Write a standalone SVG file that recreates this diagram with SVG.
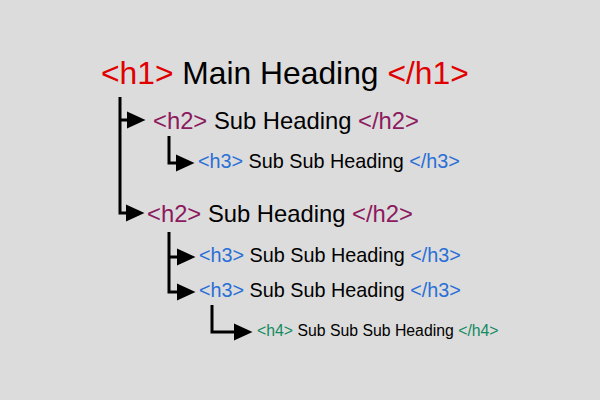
<svg xmlns="http://www.w3.org/2000/svg" width="600" height="400" viewBox="0 0 600 400">
  <style>
    text { font-family: "Liberation Sans", Arial, Helvetica, sans-serif; fill: #000; }
    .h1 { font-size: 31.8px; }
    .h2 { font-size: 23.8px; }
    .h3 { font-size: 19.8px; }
    .h4 { font-size: 15.8px; }
    .t1 { fill: #e00000; }
    .t2 { fill: #8c1a5e; }
    .t3 { fill: #2a6fd6; }
    .t4 { fill: #138a5f; }
    .conn { fill: none; stroke: #000; stroke-width: 3; stroke-linejoin: miter; }
  </style>
  <defs>
    <marker id="arrow" markerUnits="userSpaceOnUse" markerWidth="19" markerHeight="17" refX="0" refY="8.5" orient="auto" overflow="visible">
      <path d="M0,0 L18.5,8.5 L0,17 z" fill="#000"/>
    </marker>
  </defs>
  <rect width="600" height="400" fill="#dcdcdc"/>

  <g id="connectors">
    <path class="conn" d="M120,97 V213 H126" marker-end="url(#arrow)"/>
    <path class="conn" d="M120,120 H127" marker-end="url(#arrow)"/>
    <path class="conn" d="M169,136 V163 H176" marker-end="url(#arrow)"/>
    <path class="conn" d="M169,232 V292 H177" marker-end="url(#arrow)"/>
    <path class="conn" d="M169,257 H177" marker-end="url(#arrow)"/>
    <path class="conn" d="M212,305 V332 H234" marker-end="url(#arrow)"/>
  </g>

  <g id="h1-main">
    <text class="h1" x="101" y="84"><tspan class="t1">&lt;h1&gt;</tspan> Main Heading <tspan class="t1">&lt;/h1&gt;</tspan></text>
  </g>
  <g id="h2-a">
    <text class="h2" x="153" y="129"><tspan class="t2">&lt;h2&gt;</tspan> Sub Heading <tspan class="t2">&lt;/h2&gt;</tspan></text>
  </g>
  <g id="h3-a">
    <text class="h3" x="198" y="168"><tspan class="t3">&lt;h3&gt;</tspan> Sub Sub Heading <tspan class="t3">&lt;/h3&gt;</tspan></text>
  </g>
  <g id="h2-b">
    <text class="h2" x="147" y="222"><tspan class="t2">&lt;h2&gt;</tspan> Sub Heading <tspan class="t2">&lt;/h2&gt;</tspan></text>
  </g>
  <g id="h3-b">
    <text class="h3" x="199" y="262"><tspan class="t3">&lt;h3&gt;</tspan> Sub Sub Heading <tspan class="t3">&lt;/h3&gt;</tspan></text>
  </g>
  <g id="h3-c">
    <text class="h3" x="199" y="297"><tspan class="t3">&lt;h3&gt;</tspan> Sub Sub Heading <tspan class="t3">&lt;/h3&gt;</tspan></text>
  </g>
  <g id="h4-a">
    <text class="h4" x="257" y="336"><tspan class="t4">&lt;h4&gt;</tspan> Sub Sub Sub Heading <tspan class="t4">&lt;/h4&gt;</tspan></text>
  </g>
</svg>
